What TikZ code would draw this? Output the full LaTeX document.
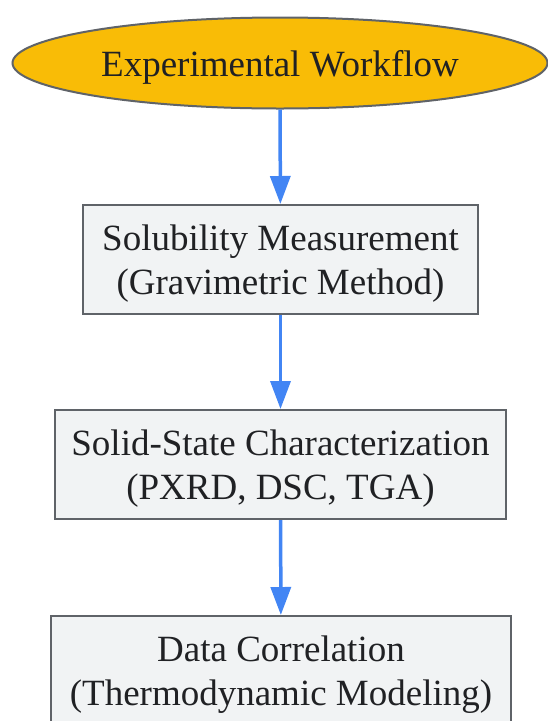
\documentclass[tikz,border=0pt]{standalone}
\usepackage{fontspec}
\setmainfont{Liberation Serif}
\usetikzlibrary{shapes.geometric,arrows.meta}
\definecolor{flowyellow}{HTML}{F9BC06}
\definecolor{flowgray}{HTML}{F1F3F4}
\definecolor{flowedge}{HTML}{5F6368}
\definecolor{flowblue}{HTML}{4285F4}
\definecolor{flowtext}{HTML}{202124}
\begin{document}
\begin{tikzpicture}[x=1pt,y=-1pt,
  stepbox/.style={draw=flowedge, fill=flowgray, line width=2pt, inner sep=0pt,
    minimum height=109pt, align=center, text=flowtext, text depth=0pt,
    font=\fontsize{37}{44}\selectfont},
  flowarrow/.style={draw=flowblue, line width=3.5pt,
    -{Triangle[length=28pt,width=20pt]}}]
\useasboundingbox (0,0) rectangle (548,721);
\node[draw=flowedge, fill=flowyellow, ellipse, line width=2pt, inner sep=0pt,
  minimum width=535pt, minimum height=91pt, text=flowtext, text depth=0pt,
  font=\fontsize{37}{44}\selectfont] (start) at (280,63) {Experimental Workflow};
\node[stepbox, minimum width=395pt] (solub) at (280.5,259.5) {Solubility Measurement\\(Gravimetric Method)};
\node[stepbox, minimum width=451pt] (solid) at (280.5,464.5) {Solid-State Characterization\\(PXRD, DSC, TGA)};
\node[stepbox, minimum width=460pt] (corr) at (281,670.5) {Data Correlation\\(Thermodynamic Modeling)};

\path[flowarrow] (start) -- (solub);
\path[flowarrow] (solub) -- (solid);
\path[flowarrow] (solid) -- (corr);
\end{tikzpicture}
\end{document}
